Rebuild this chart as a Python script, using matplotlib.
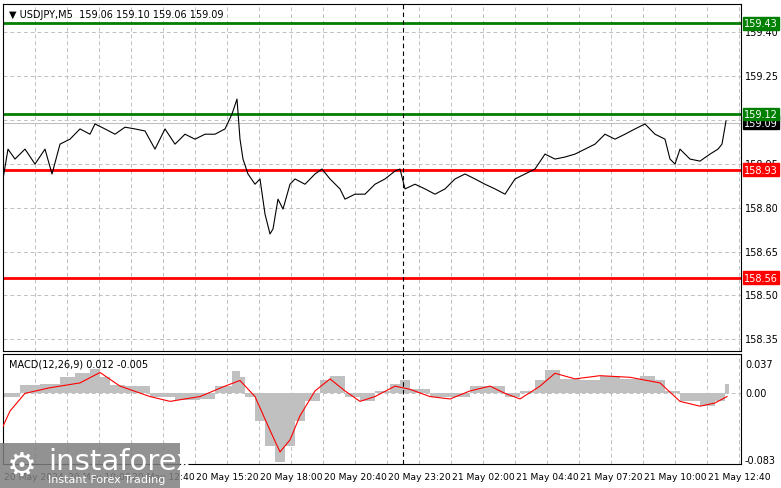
import matplotlib
matplotlib.use("Agg")
import matplotlib.pyplot as plt
import numpy as np

# price trace (bar index, close)
px_idx = [0,2.5,6,11,16,21,24.5,28.5,33.5,38.5,43.5,46,51,56,61,66,71,76,81,86,91,96,101,106,111,114.5,117,118.5,120,122.5,126,128.5,131,133.5,135,137.5,140,143.5,146,151,156,159.5,163.5,168.5,171,176,181,186,191,196,198.5,201,206,211,216,221,226,231,236,241,246,251,256,261,266,271,276,281,286,291,296,301,306,311,316,321,326,331,333.5,336,338.5,343.5,348.5,353.5,357.5,359.5,361.5]
px_val = [158.898,159.0,158.966,159.0,158.949,159.0,158.915,159.017,159.034,159.069,159.051,159.086,159.069,159.051,159.075,159.069,159.062,159.0,159.069,159.017,159.051,159.034,159.051,159.051,159.069,159.12,159.171,159.034,158.966,158.915,158.88,158.898,158.778,158.71,158.727,158.829,158.795,158.88,158.898,158.88,158.915,158.932,158.898,158.864,158.829,158.846,158.846,158.88,158.898,158.925,158.932,158.864,158.88,158.864,158.846,158.864,158.898,158.915,158.898,158.88,158.864,158.846,158.898,158.915,158.932,158.983,158.966,158.973,158.983,159.0,159.017,159.051,159.034,159.051,159.069,159.086,159.051,159.034,158.966,158.949,159.0,158.966,158.959,158.983,159.0,159.017,159.096]

hist_idx = [0,6,8.5,18.5,28.5,36,43.5,48.5,53.5,61,73.5,86,98.5,106,114.5,118.5,121,126,131,136,141,146,151,158.5,163.5,171,178.5,186,193.5,198.5,203.5,213.5,223.5,233.5,243.5,251,258.5,266,271,278.5,288.5,298.5,308.5,318.5,326,331,338.5,348.5,356,361]
hist_val = [-0.004,-0.004,0.010,0.012,0.020,0.025,0.030,0.020,0.010,0.009,-0.005,-0.008,-0.007,0.009,0.028,0.020,-0.004,-0.035,-0.065,-0.085,-0.065,-0.035,-0.010,0.016,0.022,-0.004,-0.010,0.003,0.012,0.016,0.005,-0.004,-0.004,0.009,0.009,-0.004,0.003,0.016,0.029,0.018,0.016,0.022,0.018,0.022,0.016,0.003,-0.010,-0.016,-0.010,0.012]
sig_idx = [0,3.5,11,23.5,38.5,48.5,58.5,73.5,83.5,98.5,111,118.5,126,133.5,138.5,143.5,148.5,156,163.5,171,178.5,186,196,203.5,213.5,223.5,233.5,243.5,251,258.5,268.5,276,286,298.5,313.5,328.5,338.5,348.5,356,362]
sig_val = [-0.041,-0.022,0.0,0.007,0.013,0.026,0.009,-0.004,-0.010,-0.004,0.009,0.016,-0.004,-0.046,-0.073,-0.058,-0.028,0.003,0.018,0.003,-0.010,-0.004,0.009,0.005,-0.004,-0.007,0.003,0.009,0.0,-0.007,0.009,0.025,0.018,0.022,0.020,0.013,-0.010,-0.016,-0.012,-0.004]

tick_pos = [0,32,64,96,128,160,192,224,256,288,320,352]
tick_lab = ["20 May 2024","20 May 10:00","20 May 12:40","20 May 15:20","20 May 18:00","20 May 20:40",
            "20 May 23:20","21 May 02:00","21 May 04:40","21 May 07:20","21 May 10:00","21 May 12:40"]
price_ticks = [159.40,159.25,159.10,158.95,158.80,158.65,158.50,158.35]
levels_green = [159.43,159.12]
levels_red = [158.93,158.56]
current = 159.09

W,H = 781,489
fig = plt.figure(figsize=(W/100,H/100),dpi=100)
fig.patch.set_facecolor("white")
plt.rcParams['font.family'] = ['DejaVu Sans']
ax = fig.add_axes([3/W, 1-352/H, 738/W, 347/H])
ax2 = fig.add_axes([3/W, 1-465/H, 738/W, 110/H])
xmax = 369
for a in (ax,ax2):
    a.set_xlim(0,xmax)
    for s in a.spines.values(): s.set_linewidth(0.8)
    a.tick_params(left=False,right=False,bottom=False,labelleft=False,labelbottom=False)
    for g in range(0,xmax,16):
        a.axvline(g,color="#c0c0c0",ls=(0,(4,3)),lw=0.7,zorder=0)
    a.axvline(200,color="black",ls=(0,(4,3)),lw=0.8,zorder=4)

ax.set_ylim(158.31,159.496)
for p in price_ticks:
    ax.axhline(p,color="#c0c0c0",ls=(0,(4,3)),lw=0.7,zorder=0)
    fig.text(745/W, ax.transData.transform((0,p))[1]/H, f"{p:.2f}", fontsize=7, va="center", ha="left")
ax.axhline(current,color="#c0c0c0",lw=0.8,zorder=1)
ax.plot(px_idx,px_val,color="black",lw=0.8,zorder=3)
for lv in levels_green:
    ax.axhline(lv,color="#007f00",lw=2,zorder=2)
for lv in levels_red:
    ax.axhline(lv,color="#ff0000",lw=2,zorder=2)
def box(val,fc,tc="white"):
    y = ax.transData.transform((0,val))[1]/H
    fig.text(744/W,y,f"{val:.2f}",fontsize=7,color=tc,va="center",ha="left",
             bbox=dict(boxstyle="square,pad=0.15",fc=fc,ec=fc))
box(current,"black")
for lv in levels_green: box(lv,"#008000")
for lv in levels_red: box(lv,"#ff0000")
ax.text(0.008,0.985,"\u25BC USDJPY,M5  159.06 159.10 159.06 159.09",transform=ax.transAxes,fontsize=7,va="top",ha="left")

ax2.set_ylim(-0.088,0.049)
ax2.axhline(0,color="#c0c0c0",ls=(0,(4,3)),lw=0.7,zorder=0)
widths = np.diff(np.array(hist_idx+[363.0]))
ax2.bar(hist_idx,hist_val,width=widths,align="edge",color="#c0c0c0",zorder=2)
ax2.plot(sig_idx,sig_val,color="#ff0000",lw=0.8,zorder=3)
for v,l in [(0.037,"0.037"),(0.0,"0.00"),(-0.083,"-0.083")]:
    fig.text(745/W, ax2.transData.transform((0,v))[1]/H, l, fontsize=7, va="center", ha="left")
ax2.text(0.008,0.96,"MACD(12,26,9) 0.012 -0.005",transform=ax2.transAxes,fontsize=7,va="top",ha="left")

for p,l in zip(tick_pos,tick_lab):
    xf = ax2.transData.transform((p,0))[0]/W
    fig.text(xf+1/W,1-478/H,l,fontsize=6.6,va="center",ha="left")

# watermark
fig.patches.append(plt.Rectangle((0,0),180/W,45/H,transform=fig.transFigure,fc="#7f7f7f",alpha=0.85,zorder=5))
fig.text(48/W,1-462/H,"instaforex",fontsize=21,color="white",va="center",ha="left",zorder=6)
fig.text(48/W,1-480/H,"Instant Forex Trading",fontsize=8,color="white",va="center",ha="left",zorder=6)
fig.text(22/W,1-466/H,"\u2699",fontsize=24,color="white",va="center",ha="center",zorder=6)
fig.savefig("out.png",dpi=100)
